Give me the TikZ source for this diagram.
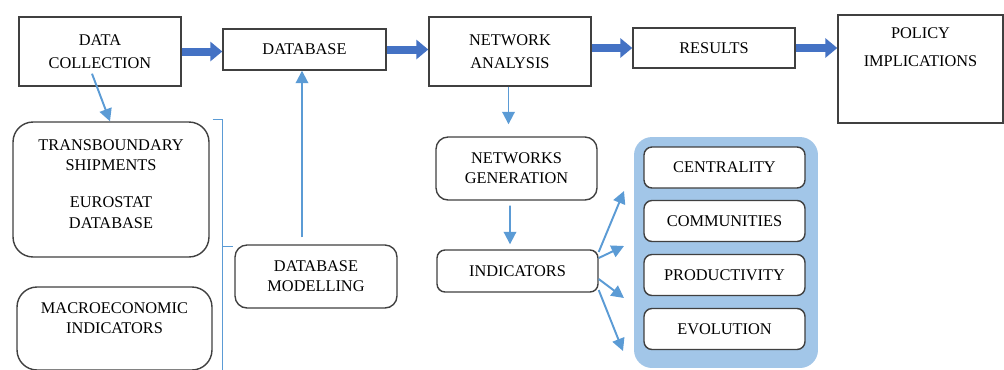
\documentclass[tikz,border=0pt]{standalone}
\usepackage{fontspec}
\setmainfont{Liberation Serif}
\usetikzlibrary{calc,arrows.meta}
\definecolor{arrowdark}{RGB}{68,114,196}
\definecolor{arrowlight}{RGB}{91,155,213}
\definecolor{panelblue}{RGB}{162,198,232}
\definecolor{boxline}{RGB}{64,64,64}

\begin{document}
\begin{tikzpicture}[x=0.02cm, y=-0.02cm,
		box/.style={draw=boxline, line width=0.8pt, fill=white, align=center, inner sep=0pt, font=\fontsize{9.3}{11.5}\selectfont},
		rbox/.style={box, rounded corners=0.24cm},
		toptext/.style={anchor=north, align=center, inner sep=0pt, font=\fontsize{9.3}{11.5}\selectfont},
		bigarrow/.style={draw=arrowdark, line width=0.16cm, -{Triangle[length=0.24cm, width=0.38cm]}},
		thinarrow/.style={draw=arrowlight, line width=1.1pt, -{Triangle[length=0.25cm, width=0.25cm]}},
		bracket/.style={draw=arrowlight, line width=0.7pt}]
			%%%%% START %%%%%
			\useasboundingbox (0,0) rectangle (1004,369);
			
			% top row
			\node[box, minimum width=3.24cm, minimum height=1.38cm] (dc) at (100,51.5) {DATA\\[1.5pt]COLLECTION};
			\node[box, minimum width=3.26cm, minimum height=0.82cm] (db) at (304.5,49.5) {DATABASE};
			\node[box, minimum width=3.24cm, minimum height=1.38cm] (na) at (510,51.5) {NETWORK\\[1.5pt]ANALYSIS};
			\node[box, minimum width=3.24cm, minimum height=0.80cm] (res) at (714,48) {RESULTS};
			\node[box, minimum width=3.30cm, minimum height=2.16cm,
				label={[toptext, yshift=-0.26cm]north:POLICY\\[4.5pt]IMPLICATIONS}] (pol) at (920.5,69) {};
			
			\draw[bigarrow] (dc.east) -- (dc.east -| db.west);
			\draw[bigarrow] (db.east) -- (db.east -| na.west);
			\draw[bigarrow] (res.west -| na.east) -- (res.west);
			\draw[bigarrow] (res.east) -- (res.east -| pol.west);
			
			% data sources
			\node[box, rounded corners=0.4cm, minimum width=3.92cm, minimum height=2.70cm,
				label={[toptext, yshift=-0.36cm]north:TRANSBOUNDARY\\SHIPMENTS\\[9.7pt]EUROSTAT\\DATABASE}] (ts) at (111,189.5) {};
			\node[box, rounded corners=0.4cm, minimum width=3.90cm, minimum height=1.66cm,
				label={[toptext, yshift=-0.32cm]north:MACROECONOMIC\\INDICATORS}] (mi) at (114.5,328.5) {};
			\node[rbox, minimum width=3.24cm, minimum height=1.26cm] (dbm) at (316,276.5) {DATABASE\\MODELLING};
			
			\coordinate (dc-out) at ($(dc.south)+(-8,-13)$);
			\draw[thinarrow] (dc-out) -- ([xshift=-0.02cm]ts.north);
			\draw[bracket] ($(ts.north east)+(3,-2)$) -- ++(10,0) -- ++(0,262);
			\draw[bracket] ($(ts.north east)+(13,125)$) -- ++(10,0);
			\coordinate (dbm-out) at ($(dbm.north)+(-14,-7)$);
			\draw[thinarrow] (dbm-out) -- (dbm-out |- db.south);
			
			% network analysis
			\node[rbox, minimum width=3.22cm, minimum height=1.26cm] (ng) at (516.5,168.5) {NETWORKS\\GENERATION};
			\node[box, rounded corners=0.16cm, minimum width=3.22cm, minimum height=0.84cm] (ind) at (517.5,271) {INDICATORS};
			
			\coordinate (ng-in) at ($(ng.north)+(-8,-12)$);
			\draw[thinarrow] (na.south -| ng-in) -- (ng-in);
			\draw[thinarrow] ([xshift=-0.13cm, yshift=-0.1cm]ng.south) -- ([xshift=-0.15cm, yshift=0.1cm]ind.north);
			
			% indicator panel
			\node[fill=panelblue, rounded corners=0.36cm, minimum width=3.68cm, minimum height=4.62cm] (panel) at (726,252.5) {};
			\node[box, rounded corners=0.16cm, minimum width=3.22cm, minimum height=0.82cm] (cen) at (724.5,167.5) {CENTRALITY};
			\node[box, rounded corners=0.16cm, minimum width=3.22cm, minimum height=0.82cm] (com) at (724.5,221) {COMMUNITIES};
			\node[box, rounded corners=0.16cm, minimum width=3.22cm, minimum height=0.82cm] (pro) at (724.5,275) {PRODUCTIVITY};
			\node[box, rounded corners=0.16cm, minimum width=3.22cm, minimum height=0.82cm] (evo) at (724.5,329) {EVOLUTION};
			
			\coordinate (tip1) at (624,191);
			\coordinate (tip2) at (624,246);
			\coordinate (tip3) at (624,298);
			\coordinate (tip4) at (623,351);
			\draw[thinarrow] ([yshift=0.38cm]ind.east) -- (tip1);
			\draw[thinarrow] ([yshift=0.26cm]ind.east) -- (tip2);
			\draw[thinarrow] ([yshift=-0.16cm]ind.east) -- (tip3);
			\draw[thinarrow] ([yshift=-0.38cm]ind.east) -- (tip4);
			%%%%% END %%%%%
\end{tikzpicture}
\end{document}
